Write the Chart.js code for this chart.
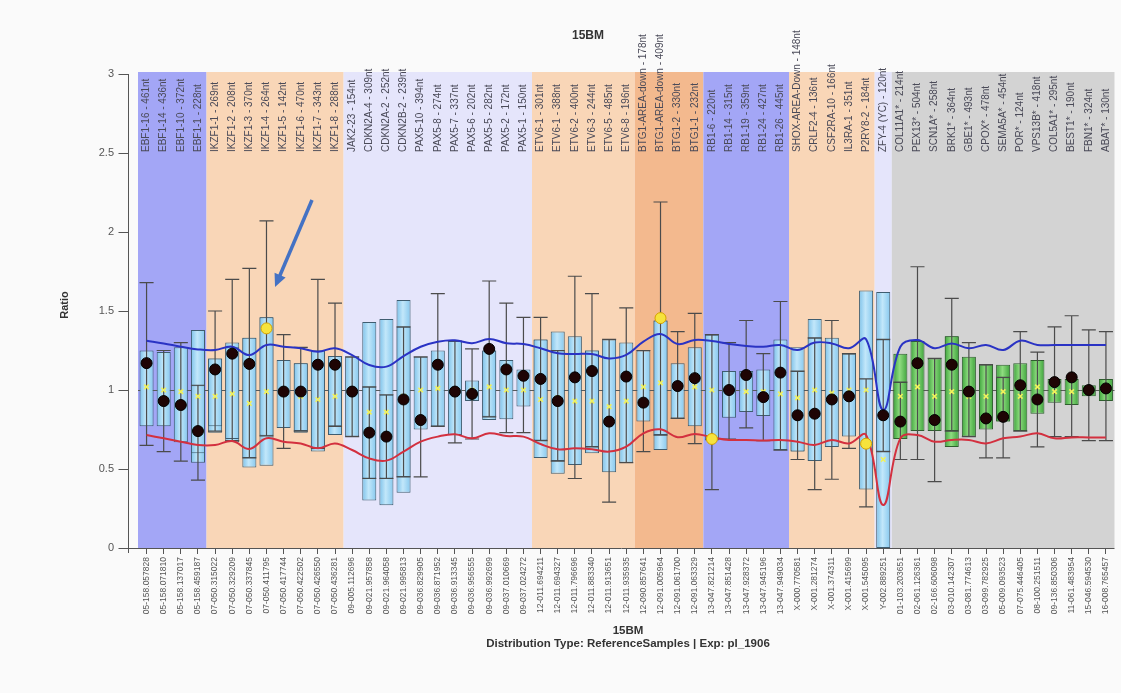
<!DOCTYPE html>
<html>
<head>
<meta charset="utf-8">
<script src="https://cdn.jsdelivr.net/npm/chart.js@4.4.1/dist/chart.umd.min.js"></script>
<style>
  html, body { margin: 0; padding: 0; background: #fafafa; }
  canvas { display: block; }
</style>
</head>
<body>
<canvas id="c" width="1121" height="693"></canvas>
<script>
// Genomic positions of the probes (x axis tick labels)
const positions = [
  '05-158.057828','05-158.071810','05-158.137017','05-158.459187',
  '07-050.315022','07-050.329209','07-050.337845','07-050.411795','07-050.417744','07-050.422502','07-050.426550','07-050.436281',
  '09-005.112696','09-021.957858','09-021.964058','09-021.995813','09-036.829905','09-036.871952','09-036.913345','09-036.956555','09-036.992699','09-037.010669','09-037.024272',
  '12-011.694211','12-011.694327','12-011.796696','12-011.883340','12-011.913651','12-011.935935',
  '12-090.857641','12-091.005964','12-091.061700','12-091.063329',
  '13-047.821214','13-047.851428','13-047.928372','13-047.945196','13-047.949034',
  'X-000.770581','X-001.281274','X-001.374311','X-001.415699','X-001.545095',
  'Y-002.889251',
  '01-103.203651','02-061.126361','02-166.606098','03-010.142307','03-081.774613','03-099.782925','05-009.093523','07-075.446405','08-100.251511','09-136.850306','11-061.483954','15-046.594530','16-008.765457'
];

// Probe names with fragment length (labels along the top)
const probes = [
  'EBF1-16 - 461nt','EBF1-14 - 436nt','EBF1-10 - 372nt','EBF1-1 - 228nt',
  'IKZF1-1 - 269nt','IKZF1-2 - 208nt','IKZF1-3 - 370nt','IKZF1-4 - 264nt','IKZF1-5 - 142nt','IKZF1-6 - 470nt','IKZF1-7 - 343nt','IKZF1-8 - 288nt',
  'JAK2-23 - 154nt','CDKN2A-4 - 309nt','CDKN2A-2 - 252nt','CDKN2B-2 - 239nt','PAX5-10 - 394nt','PAX5-8 - 274nt','PAX5-7 - 337nt','PAX5-6 - 202nt','PAX5-5 - 282nt','PAX5-2 - 172nt','PAX5-1 - 150nt',
  'ETV6-1 - 301nt','ETV6-1 - 388nt','ETV6-2 - 400nt','ETV6-3 - 244nt','ETV6-5 - 485nt','ETV6-8 - 196nt',
  'BTG1-AREA-down - 178nt','BTG1-AREA-down - 409nt','BTG1-2 - 330nt','BTG1-1 - 232nt',
  'RB1-6 - 220nt','RB1-14 - 315nt','RB1-19 - 359nt','RB1-24 - 427nt','RB1-26 - 445nt',
  'SHOX-AREA-Down - 148nt','CRLF2-4 - 136nt','CSF2RA-10 - 166nt','IL3RA-1 - 351nt','P2RY8-2 - 184nt',
  'ZFY-4 (YC) - 120nt',
  'COL11A1* - 214nt','PEX13* - 504nt','SCN1A* - 258nt','BRK1* - 364nt','GBE1* - 493nt','CPOX* - 478nt','SEMA5A* - 454nt','POR* - 124nt','VPS13B* - 418nt','COL5A1* - 295nt','BEST1* - 190nt','FBN1* - 324nt','ABAT* - 130nt'
];

// First probe index of each gene panel; the last panel holds the reference probes
const panelStart = [0, 4, 12, 23, 29, 33, 38, 43, 44];

// Reference distribution per probe
const outerLow  = [0.77,0.77,0.67,0.54,0.73,0.67,0.51,0.52,0.76,0.73,0.61,0.715,0.705,0.30,0.27,0.35,0.75,0.77,0.715,0.93,0.81,0.815,0.895,0.57,0.47,0.525,0.60,0.48,0.54,0.80,0.62,0.82,0.77,0.68,0.825,0.86,0.835,0.62,0.61,0.55,0.64,0.705,0.37,0.0,0.69,0.74,0.74,0.64,0.705,0.75,0.80,0.74,0.85,0.92,0.905,0.96,0.93];
const outerHigh = [1.25,1.24,1.27,1.38,1.20,1.30,1.33,1.46,1.19,1.17,1.25,1.215,1.21,1.43,1.45,1.57,1.21,1.25,1.31,1.06,1.25,1.19,1.13,1.32,1.37,1.34,1.25,1.32,1.30,1.25,1.44,1.17,1.27,1.35,1.12,1.12,1.13,1.32,1.27,1.45,1.33,1.23,1.63,1.62,1.23,1.31,1.20,1.34,1.21,1.16,1.16,1.17,1.19,1.07,1.07,1.03,1.07];
const innerLow  = [null,null,null,0.60,0.77,0.69,0.57,0.71,null,0.74,0.63,0.77,null,0.44,0.44,0.45,null,null,null,null,0.83,null,null,0.68,0.55,null,0.64,null,null,null,0.715,null,null,null,null,null,null,null,0.61,0.55,null,null,null,0.61,0.69,null,null,0.74,null,null,0.80,null,null,null,null,null,null];
const innerHigh = [null,null,null,1.03,1.20,1.27,1.33,1.46,null,1.17,1.25,1.215,null,1.02,0.97,1.40,null,null,null,null,1.25,null,null,1.32,1.25,null,1.25,null,null,null,1.44,null,null,null,null,null,null,null,1.12,1.33,null,null,null,1.32,1.05,null,null,1.34,null,null,1.08,null,null,null,null,null,null];
const whiskerLow  = [0.65,0.61,0.55,0.43,0.74,0.68,0.57,0.71,0.63,0.74,0.63,0.77,0.705,0.44,0.44,0.45,0.45,0.77,0.665,0.69,0.83,0.73,0.73,0.68,0.55,0.44,0.64,0.29,0.54,0.61,0.715,0.82,0.66,0.37,0.69,0.76,0.68,0.62,0.56,0.37,0.435,0.63,0.26,0.61,0.56,0.56,0.42,0.74,0.705,0.57,0.57,0.74,0.64,0.705,0.705,0.68,0.68];
const whiskerHigh = [1.68,1.25,1.30,1.03,1.50,1.70,1.77,2.07,1.35,1.27,1.70,1.55,1.21,1.02,0.97,1.40,1.21,1.61,1.31,1.26,1.69,1.55,1.46,1.46,1.25,1.72,1.61,1.32,1.52,1.25,2.19,1.37,1.485,1.35,1.30,1.44,1.23,1.56,1.12,1.33,1.44,1.23,1.07,1.32,1.05,1.78,1.20,1.58,1.30,1.16,1.08,1.37,1.24,1.40,1.47,1.38,1.37];
const medianRatio = [1.02,1.00,0.99,0.96,0.96,0.975,0.915,0.99,0.99,0.96,0.94,0.96,0.99,0.86,0.86,0.96,1.00,1.01,0.99,1.00,1.02,1.00,1.00,0.94,0.95,0.93,0.93,0.895,0.93,1.02,1.045,1.02,1.02,1.00,1.00,0.99,0.99,0.975,0.95,1.00,0.98,1.00,1.00,0.56,0.96,1.02,0.96,0.99,0.96,0.96,0.99,0.96,1.02,0.99,0.99,1.00,1.00];

// Sample 15BM ratio per probe
const sampleRatio = [1.17,0.93,0.905,0.74,1.13,1.23,1.165,1.39,0.99,0.99,1.16,1.16,0.99,0.73,0.705,0.94,0.81,1.16,0.99,0.975,1.26,1.13,1.09,1.07,0.93,1.08,1.12,0.80,1.085,0.92,1.455,1.025,1.075,0.69,1.00,1.095,0.955,1.11,0.84,0.85,0.94,0.96,0.66,0.84,0.80,1.17,0.81,1.16,0.99,0.82,0.83,1.03,0.94,1.05,1.08,1.00,1.01];

// Upper and lower call thresholds
const upperLimit = [1.312,1.295,1.274,1.257,1.253,1.274,1.221,1.285,1.274,1.264,1.242,1.264,1.221,1.158,1.148,1.215,1.274,1.306,1.315,1.296,1.323,1.296,1.291,1.264,1.232,1.228,1.228,1.20,1.222,1.306,1.355,1.291,1.317,1.31,1.291,1.279,1.274,1.285,1.253,1.30,1.295,1.264,1.321,0.873,1.274,1.316,1.264,1.295,1.264,1.285,1.253,1.312,1.285,1.285,1.285,1.285,1.285];
const lowerLimit = [0.715,0.694,0.673,0.652,0.652,0.677,0.627,0.694,0.673,0.662,0.631,0.662,0.62,0.567,0.553,0.61,0.673,0.705,0.72,0.694,0.726,0.709,0.705,0.658,0.625,0.631,0.625,0.61,0.641,0.726,0.751,0.701,0.722,0.701,0.684,0.684,0.68,0.684,0.673,0.652,0.684,0.662,0.715,0.272,0.694,0.715,0.673,0.684,0.684,0.662,0.694,0.705,0.726,0.694,0.70,0.70,0.70];

// ---- styling ----
const FONT = "'Liberation Sans', Arial, Helvetica, sans-serif";
const panelColors = ['#a3a6f6', '#f9d6b7', '#e5e5fb', '#f9d6b7', '#f3b98e', '#a3a6f6', '#f9d6b7', '#e5e5fb', '#d3d3d3'];
const panelOf = i => { let k = 0; panelStart.forEach((s, j) => { if (i >= s) k = j; }); return k; };
const isReference = i => panelOf(i) === panelStart.length - 1;
const flagged = i => sampleRatio[i] > upperLimit[i] || sampleRatio[i] < lowerLimit[i];

function boxFill(c) {
  const ref = isReference(c.dataIndex);
  const chart = c.chart;
  if (!chart.chartArea || !chart.scales.x) return ref ? '#5cc05a' : '#9fd4f2';
  const xc = chart.scales.x.getPixelForValue(c.dataIndex);
  const g = chart.ctx.createLinearGradient(xc - 7, 0, xc + 7, 0);
  if (ref) {
    g.addColorStop(0, '#3ea43c'); g.addColorStop(0.45, '#8fdc80'); g.addColorStop(1, '#3ea43c');
  } else {
    g.addColorStop(0, '#7dc2ea'); g.addColorStop(0.45, '#c2e7fa'); g.addColorStop(1, '#86c8ee');
  }
  return g;
}
const boxBorder = c => isReference(c.dataIndex) ? '#2f5f2e' : '#3f5d70';

const pairs = (lo, hi) => lo.map((v, i) => (v === null || hi[i] === null) ? null : [v, hi[i]]);

const decor = {
  id: 'decor',
  beforeDraw(chart) {
    const { ctx, chartArea: a, scales: { x } } = chart;
    ctx.save();
    ctx.fillStyle = '#fafafa';
    ctx.fillRect(0, 0, chart.width, chart.height);
    const w = x.getPixelForValue(1) - x.getPixelForValue(0);
    panelStart.forEach((s, k) => {
      const e = (k + 1 < panelStart.length ? panelStart[k + 1] : positions.length) - 1;
      const x0 = x.getPixelForValue(s) - w / 2;
      const x1 = x.getPixelForValue(e) + w / 2;
      ctx.fillStyle = panelColors[k];
      ctx.fillRect(x0, a.top - 2, x1 - x0, a.bottom - a.top + 2);
    });
    ctx.restore();
  },
  beforeDatasetsDraw(chart) {
    const { ctx, chartArea: a, scales: { x, y } } = chart;
    ctx.save();
    // probe names
    ctx.font = '10px ' + FONT;
    ctx.fillStyle = '#4a4a58';
    ctx.textAlign = 'left';
    ctx.textBaseline = 'middle';
    probes.forEach((p, i) => {
      ctx.save();
      ctx.translate(x.getPixelForValue(i), 152);
      ctx.rotate(-Math.PI / 2);
      ctx.fillText(p, 0, 0);
      ctx.restore();
    });
    // ratio 1 reference line
    const y1 = Math.round(y.getPixelForValue(1)) + 0.5;
    ctx.strokeStyle = '#5a5a5a';
    ctx.lineWidth = 1;
    ctx.beginPath();
    ctx.moveTo(a.left, y1); ctx.lineTo(a.right, y1);
    ctx.stroke();
    ctx.restore();
  },
  afterDatasetDraw(chart, args) {
    if (args.index !== 1) return;
    const { ctx, scales: { x, y } } = chart;
    const half = (x.getPixelForValue(1) - x.getPixelForValue(0)) * 0.41;
    ctx.save();
    ctx.strokeStyle = '#4b4b4b';
    ctx.lineWidth = 1.2;
    positions.forEach((_, i) => {
      if (whiskerLow[i] === null) return;
      const xc = x.getPixelForValue(i);
      const yl = y.getPixelForValue(whiskerLow[i]);
      const yh = y.getPixelForValue(whiskerHigh[i]);
      ctx.beginPath();
      ctx.moveTo(xc, yl); ctx.lineTo(xc, yh);
      ctx.moveTo(xc - half, yl); ctx.lineTo(xc + half, yl);
      ctx.moveTo(xc - half, yh); ctx.lineTo(xc + half, yh);
      ctx.stroke();
    });
    ctx.restore();
  },
  afterDraw(chart) {
    const { ctx, chartArea: a, scales: { y } } = chart;
    ctx.save();
    ctx.strokeStyle = '#555';
    ctx.lineWidth = 1;
    const ax = a.left - 9.5;
    ctx.beginPath();
    ctx.moveTo(ax, a.top); ctx.lineTo(ax, a.bottom + 5);
    ctx.moveTo(ax, a.bottom + 0.5); ctx.lineTo(a.right, a.bottom + 0.5);
    y.ticks.forEach(t => {
      const ty = Math.round(y.getPixelForValue(t.value)) + 0.5;
      ctx.moveTo(ax - 10, ty); ctx.lineTo(ax, ty);
    });
    ctx.stroke();

    ctx.fillStyle = '#333';
    ctx.textAlign = 'center';
    ctx.textBaseline = 'middle';
    ctx.font = 'bold 12px ' + FONT;
    ctx.fillText('15BM', 588, 36);
    ctx.font = 'bold 11.5px ' + FONT;
    ctx.fillText('15BM', 628, 631);
    ctx.fillText('Distribution Type: ReferenceSamples | Exp: pl_1906', 628, 644);
    ctx.save();
    ctx.translate(65, 305);
    ctx.rotate(-Math.PI / 2);
    ctx.font = 'bold 11px ' + FONT;
    ctx.fillText('Ratio', 0, 0);
    ctx.restore();

    // annotation arrow pointing at IKZF1-4
    const sx = 312, sy = 200, tx = 275, ty = 287;
    const ang = Math.atan2(ty - sy, tx - sx);
    ctx.strokeStyle = '#4472c4';
    ctx.fillStyle = '#4472c4';
    ctx.lineWidth = 3.5;
    ctx.beginPath();
    ctx.moveTo(sx, sy);
    ctx.lineTo(tx - 9 * Math.cos(ang), ty - 9 * Math.sin(ang));
    ctx.stroke();
    ctx.beginPath();
    ctx.moveTo(tx, ty);
    ctx.lineTo(tx - 13 * Math.cos(ang) + 6 * Math.sin(ang), ty - 13 * Math.sin(ang) - 6 * Math.cos(ang));
    ctx.lineTo(tx - 13 * Math.cos(ang) - 6 * Math.sin(ang), ty - 13 * Math.sin(ang) + 6 * Math.cos(ang));
    ctx.closePath();
    ctx.fill();
    ctx.restore();
  }
};

new Chart(document.getElementById('c'), {
  type: 'bar',
  data: {
    labels: positions,
    datasets: [
      {
        type: 'bar', label: 'range', data: pairs(outerLow, outerHigh),
        backgroundColor: boxFill, borderColor: boxBorder, borderWidth: 1, borderSkipped: false,
        grouped: false, barPercentage: 0.82, categoryPercentage: 1, order: 10
      },
      {
        type: 'bar', label: 'core', data: pairs(innerLow, innerHigh),
        backgroundColor: boxFill, borderColor: boxBorder, borderWidth: 1, borderSkipped: false,
        grouped: false, barPercentage: 0.82, categoryPercentage: 1, order: 9
      },
      {
        type: 'line', label: 'upper', data: upperLimit, borderColor: '#2a33c4', borderWidth: 2,
        tension: 0.4, pointRadius: 0, fill: false, order: 5
      },
      {
        type: 'line', label: 'lower', data: lowerLimit, borderColor: '#d3303f', borderWidth: 2,
        tension: 0.4, pointRadius: 0, fill: false, order: 5
      },
      {
        type: 'line', label: 'median', data: medianRatio, showLine: false,
        pointStyle: 'crossRot', pointRadius: 3.2, borderColor: '#f1f15a', backgroundColor: '#f1f15a',
        pointBorderWidth: 1.6, order: 3
      },
      {
        type: 'line', label: '15BM', data: sampleRatio, showLine: false,
        pointStyle: 'circle', pointRadius: 5.5,
        pointBackgroundColor: c => flagged(c.dataIndex) ? '#f6e33c' : '#1e0404',
        pointBorderColor: c => flagged(c.dataIndex) ? '#d6a200' : '#000000',
        pointBorderWidth: 1, order: 1
      }
    ]
  },
  options: {
    responsive: false,
    animation: false,
    devicePixelRatio: 1,
    layout: { padding: { top: 74, right: 1, left: 0, bottom: 0 } },
    plugins: { legend: { display: false }, tooltip: { enabled: false }, title: { display: false } },
    scales: {
      x: {
        offset: true,
        grid: { display: true, offset: false, drawOnChartArea: false, drawTicks: true, tickLength: 6, color: '#555' },
        border: { display: false },
        ticks: { autoSkip: false, maxRotation: 90, minRotation: 90, padding: 3, color: '#555', font: { family: FONT, size: 8.5 } },
        afterFit: s => { s.height = 145; }
      },
      y: {
        min: 0, max: 3,
        grid: { display: false, drawTicks: false },
        border: { display: false },
        ticks: { stepSize: 0.5, padding: 24, color: '#555', font: { family: FONT, size: 11 }, callback: v => String(v) },
        afterFit: s => { s.width = 138; }
      }
    }
  },
  plugins: [decor]
});
</script>
</body>
</html>
